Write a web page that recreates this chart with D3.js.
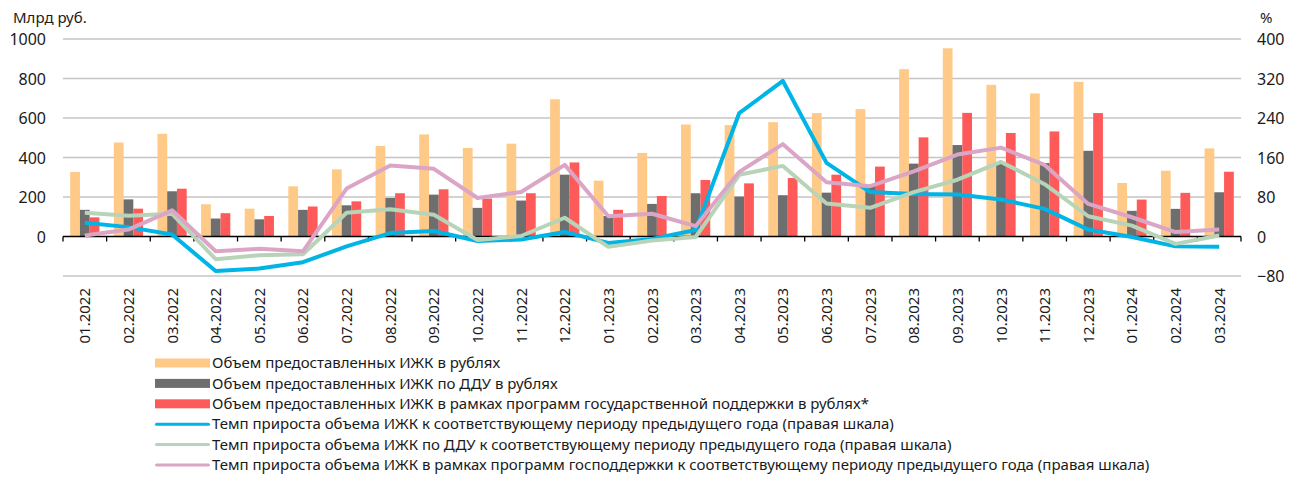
<!DOCTYPE html>
<html>
<head>
<meta charset="utf-8">
<script src="https://cdn.jsdelivr.net/npm/d3@7"></script>
<style>
	body { margin: 0; background: #fff; }
	text { font-family: "Noto Sans", sans-serif; fill: #1a1a1a; }
</style>
</head>
<body>
<div id="chart"></div>
<script>
let months = ["01.2022","02.2022","03.2022","04.2022","05.2022","06.2022","07.2022","08.2022","09.2022","10.2022","11.2022","12.2022",
	"01.2023","02.2023","03.2023","04.2023","05.2023","06.2023","07.2023","08.2023","09.2023","10.2023","11.2023","12.2023",
	"01.2024","02.2024","03.2024"]

// млрд руб. (левая шкала)
let volumeTotal = [327,476,520,163,141,254,340,458,517,448,470,695,283,423,567,564,579,625,645,847,953,768,724,783,271,333,446]
let volumeDdu   = [135,188,229,91,87,135,158,195,212,145,182,313,104,165,219,202,209,222,255,369,463,370,372,434,130,140,224]
let volumeGov   = [97,141,242,118,104,152,178,219,239,192,219,375,135,205,286,269,296,313,354,502,626,524,532,625,187,221,328]

// % (правая шкала)
let growthTotal = [28,19,4,-70,-65,-52,-20,7,11,-9,-6,9,-13,-5,13,250,315,149,90,86,85,75,56,14,-1,-20,-21]
let growthDdu   = [48,42,46,-46,-38,-36,48,55,44,-7,1,38,-21,-8,-1,125,143,67,58,90,115,151,106,41,22,-15,2]
let growthGov   = [2,14,53,-30,-25,-30,97,144,137,78,90,145,41,46,21,131,187,110,102,132,166,180,145,66,39,9,14]

let leftTicks  = [0,200,400,600,800,1000]
let rightTicks = [-80,0,80,160,240,320,400]

let barSeries = [
	{name: "Объем предоставленных ИЖК в рублях", values: volumeTotal, color: "#ffc987"},
	{name: "Объем предоставленных ИЖК по ДДУ в рублях", values: volumeDdu, color: "#6e6e6e"},
	{name: "Объем предоставленных ИЖК в рамках программ государственной поддержки в рублях*", values: volumeGov, color: "#ff5a5a"}
]
let lineSeries = [
	{name: "Темп прироста объема ИЖК к соответствующему периоду предыдущего года (правая шкала)", values: growthTotal, color: "#00b4e6"},
	{name: "Темп прироста объема ИЖК по ДДУ к соответствующему периоду предыдущего года (правая шкала)", values: growthDdu, color: "#b8d4b8"},
	{name: "Темп прироста объема ИЖК в рамках программ господдержки к соответствующему периоду предыдущего года (правая шкала)", values: growthGov, color: "#dba6c6"}
]

let dimensions = {width: 1295, height: 478, margin: {left: 63, right: 54, top: 39, plotBottom: 276}}

let svg = d3.select("#chart").append("svg")
	.attr("width", dimensions.width)
	.attr("height", dimensions.height)

let x0 = d3.scaleBand()
	.domain(months)
	.range([dimensions.margin.left, dimensions.width - dimensions.margin.right])
	.paddingInner(0.33)
	.paddingOuter(0.165)
let xCenter = d => x0(d) + x0.bandwidth() / 2
let step = x0.step()
let x1 = d3.scaleBand().domain([0, 1, 2]).range([0, x0.bandwidth()])

let yLeft  = d3.scaleLinear().domain([-200, 1000]).range([dimensions.margin.plotBottom, dimensions.margin.top])
let yRight = d3.scaleLinear().domain([-80, 400]).range([dimensions.margin.plotBottom, dimensions.margin.top])

let plotLeft = dimensions.margin.left
let plotRight = dimensions.width - dimensions.margin.right

// сетка
svg.append("g")
	.selectAll("line")
	.data([-200].concat(leftTicks.filter(d => d !== 0)))
	.enter().append("line")
		.attr("x1", plotLeft).attr("x2", plotRight)
		.attr("y1", d => yLeft(d)).attr("y2", d => yLeft(d))
		.attr("stroke", "#c4c4c4").attr("stroke-width", 1.3)

// левая ось
svg.append("g")
	.attr("transform", `translate(${plotLeft - 17},0)`)
	.call(d3.axisLeft(yLeft).tickValues(leftTicks).tickFormat(d3.format("d")).tickSize(0).tickPadding(0))
	.call(g => g.select(".domain").remove())
	.selectAll("text")
		.style("font-size", "16px").attr("dy", "0.35em")

// правая ось
svg.append("g")
	.attr("transform", `translate(${plotRight + 16},0)`)
	.call(d3.axisRight(yRight).tickValues(rightTicks).tickFormat(d3.format("d")).tickSize(0).tickPadding(0))
	.call(g => g.select(".domain").remove())
	.selectAll("text")
		.style("font-size", "16px").attr("dy", "0.35em")

svg.append("text").attr("x", 13).attr("y", 23).style("font-size", "15px").text("Млрд руб.")
svg.append("text").attr("x", 1260).attr("y", 23).style("font-size", "15px").text("%")

// столбцы
svg.append("g")
	.selectAll("g")
	.data(barSeries)
	.enter().append("g")
		.attr("fill", d => d.color)
		.each(function(s, si) {
			d3.select(this).selectAll("rect")
				.data(s.values)
				.enter().append("rect")
					.attr("x", (v, i) => x0(months[i]) + x1(si))
					.attr("width", x1.bandwidth())
					.attr("y", v => yLeft(Math.max(0, v)))
					.attr("height", v => Math.abs(yLeft(v) - yLeft(0)))
		})

// ось X
let xAxisG = svg.append("g")
	.attr("transform", `translate(0,${yLeft(0)})`)
xAxisG.append("line")
	.attr("x1", plotLeft).attr("x2", plotRight)
	.attr("stroke", "#000").attr("stroke-width", 1.3)
xAxisG.selectAll("line.tick")
	.data(d3.range(months.length + 1))
	.enter().append("line")
		.classed("tick", true)
		.attr("x1", i => plotLeft + i * step).attr("x2", i => plotLeft + i * step)
		.attr("y1", 0).attr("y2", 5)
		.attr("stroke", "#000").attr("stroke-width", 1.3)

svg.append("g")
	.selectAll("text")
	.data(months)
	.enter().append("text")
		.attr("transform", d => `translate(${xCenter(d) + 5.5},${yLeft(-200) + 12}) rotate(-90)`)
		.attr("text-anchor", "end")
		.style("font-size", "15px")
		.text(d => d)

// линии
let line = d3.line()
	.x((v, i) => xCenter(months[i]))
	.y(v => yRight(v))

svg.append("g")
	.selectAll("path")
	.data(lineSeries)
	.enter().append("path")
		.attr("d", d => line(d.values))
		.attr("fill", "none")
		.attr("stroke", d => d.color)
		.attr("stroke-width", 4)
		.attr("stroke-linejoin", "round")

// легенда
let legend = svg.append("g").attr("transform", "translate(155,363)")
let items = barSeries.map(d => ({name: d.name, color: d.color, type: "bar"}))
	.concat(lineSeries.map(d => ({name: d.name, color: d.color, type: "line"})))

let rows = legend.selectAll("g")
	.data(items)
	.enter().append("g")
		.attr("transform", (d, i) => `translate(0,${i * 20.4})`)

rows.filter(d => d.type === "bar").append("rect")
	.attr("x", 0).attr("y", -4.5).attr("width", 55).attr("height", 9)
	.attr("fill", d => d.color)
rows.filter(d => d.type === "line").append("line")
	.attr("x1", 1.5).attr("x2", 53.5).attr("y1", 0).attr("y2", 0)
	.attr("stroke", d => d.color).attr("stroke-width", 3)
	.attr("stroke-linecap", "round")
rows.append("text")
	.attr("x", 57).attr("y", 0).attr("dy", "0.35em")
	.style("font-size", "15px")
	.text(d => d.name)
</script>
</body>
</html>
